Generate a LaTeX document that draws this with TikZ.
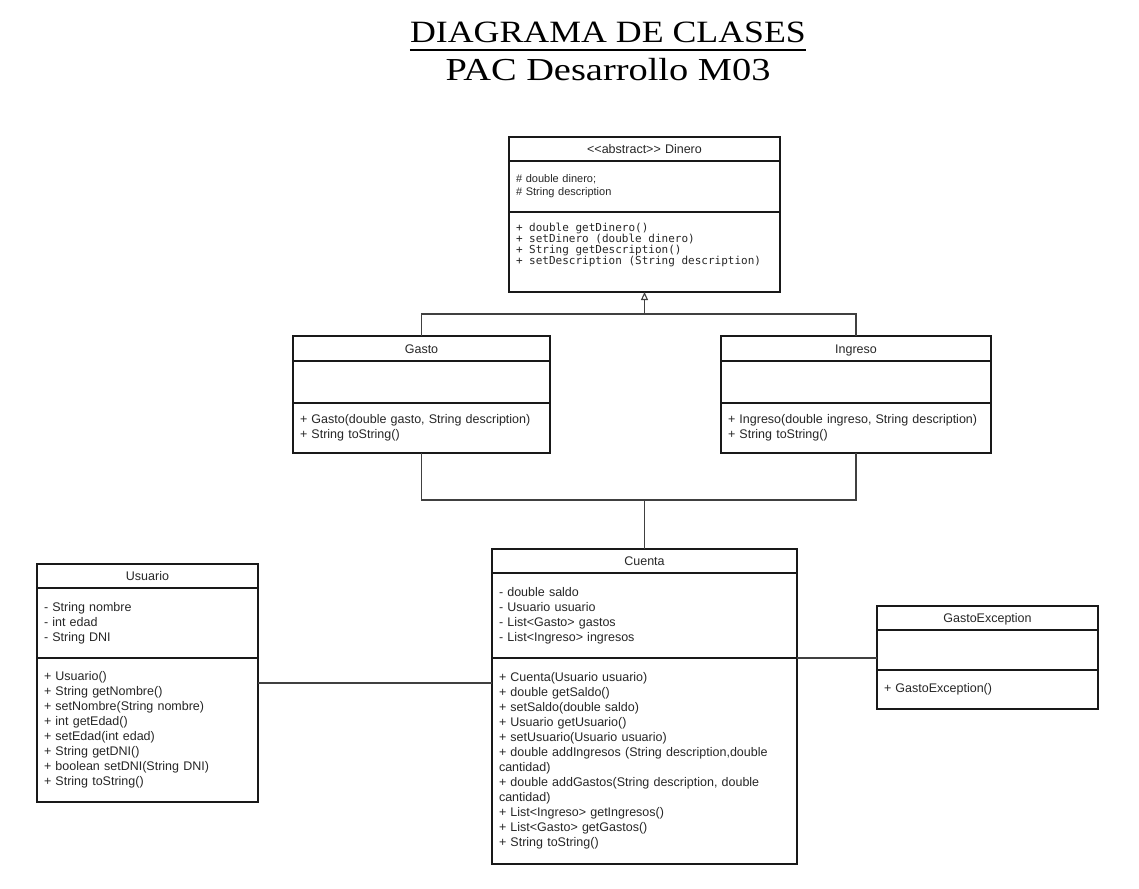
\documentclass[tikz,border=0pt]{standalone}
\usepackage{fontspec}
\setmainfont{Liberation Sans}
\setmonofont{DejaVu Sans Mono}
\newfontfamily\titlefont{Liberation Serif}
\usetikzlibrary{positioning,calc,arrows.meta}
\colorlet{ClassBorder}{black!90}
\colorlet{LinkColor}{black!75}
\newcommand{\classfont}{\fontsize{12.5}{15}\selectfont}
\newcommand{\codefont}{\ttfamily\fontsize{11}{11}\selectfont}
\newcommand{\codesp}{\hspace*{6.62pt}}

\tikzset{
  classbox/.style={draw=ClassBorder, line width=1.5pt, outer sep=0pt,
    inner xsep=7pt, inner ysep=2pt, text=black!85, font=\classfont},
  classhead/.style={classbox, align=center, anchor=north west, text height=12pt, text depth=3pt},
  link/.style={draw=LinkColor, line width=1.1pt},
}

\begin{document}
\begin{tikzpicture}[x=1pt, y=-1pt]
    \useasboundingbox (0,0) rectangle (1139,888);

    % ---------- Title
    \node[anchor=base, inner sep=0pt, font=\titlefont\fontsize{31}{36}\selectfont] (title) at (608,43)
      {\scalebox{1.155}[1]{DIAGRAMA DE CLASES}};
    \draw[line width=2.6pt] ($(title.base west)+(0,7)$) -- ($(title.base east)+(0,7)$);
    \node[anchor=base, inner sep=0pt, font=\titlefont\fontsize{32}{36}\selectfont] (subtitle) at (608,81)
      {\scalebox{1.2}[1]{PAC Desarrollo M03}};

    % ---------- Dinero
    \node[classhead, text width=257pt, minimum height=24pt] (dineroHead) at (509,137) {{<}{<}abstract{>}{>} Dinero};
    \node[classbox, text width=257pt, minimum height=51pt, align=left, below=0pt of dineroHead,
      font=\fontsize{11}{13}\selectfont] (dineroAttrs) {\# double dinero;\\\# String description};
    \node[classbox, text width=257pt, minimum height=80pt, align=left, below=0pt of dineroAttrs,
      font=\codefont] (dineroMethods)
      {+\codesp double\codesp getDinero()\\
       +\codesp setDinero\codesp(double\codesp dinero)\\
       +\codesp String\codesp getDescription()\\
       +\codesp setDescription\codesp(String\codesp description)\par\vspace{14pt}};

    % ---------- Gasto
    \node[classhead, text width=243pt, minimum height=25pt] (gastoHead) at (293,336) {Gasto};
    \node[classbox, text width=243pt, minimum height=42pt, below=0pt of gastoHead] (gastoAttrs) {};
    \node[classbox, text width=243pt, minimum height=50pt, align=left, below=0pt of gastoAttrs] (gastoMethods)
      {+ Gasto(double gasto, String description)\\+ String toString()};

    % ---------- Ingreso
    \node[classhead, text width=256pt, minimum height=25pt] (ingresoHead) at (721,336) {Ingreso};
    \node[classbox, text width=256pt, minimum height=42pt, below=0pt of ingresoHead] (ingresoAttrs) {};
    \node[classbox, text width=256pt, minimum height=50pt, align=left, below=0pt of ingresoAttrs] (ingresoMethods)
      {+ Ingreso(double ingreso, String description)\\+ String toString()};

    % ---------- Cuenta
    \node[classhead, text width=291pt, minimum height=24pt] (cuentaHead) at (492,549) {Cuenta};
    \node[classbox, text width=291pt, minimum height=85pt, align=left, below=0pt of cuentaHead] (cuentaAttrs)
      {- double saldo\\- Usuario usuario\\- List<Gasto> gastos\\- List<Ingreso> ingresos};
    \node[classbox, text width=291pt, minimum height=206pt, align=left, below=0pt of cuentaAttrs] (cuentaMethods)
      {+ Cuenta(Usuario usuario)\\+ double getSaldo()\\+ setSaldo(double saldo)\\+ Usuario getUsuario()\\
       + setUsuario(Usuario usuario)\\+ double addIngresos (String description,double\\cantidad)\\
       + double addGastos(String description, double\\cantidad)\\+ List<Ingreso> getIngresos()\\
       + List<Gasto> getGastos()\\+ String toString()};

    % ---------- Usuario
    \node[classhead, text width=207pt, minimum height=24pt] (usuarioHead) at (37,564) {Usuario};
    \node[classbox, text width=207pt, minimum height=70pt, align=left, below=0pt of usuarioHead] (usuarioAttrs)
      {- String nombre\\- int edad\\- String DNI};
    \node[classbox, text width=207pt, minimum height=144pt, align=left, below=0pt of usuarioAttrs] (usuarioMethods)
      {+ Usuario()\\+ String getNombre()\\+ setNombre(String nombre)\\+ int getEdad()\\+ setEdad(int edad)\\
       + String getDNI()\\+ boolean setDNI(String DNI)\\+ String toString()};

    % ---------- GastoException
    \node[classhead, text width=207pt, minimum height=24pt] (gastoExHead) at (877,606) {GastoException};
    \node[classbox, text width=207pt, minimum height=40pt, below=0pt of gastoExHead] (gastoExAttrs) {};
    \node[classbox, text width=207pt, minimum height=39pt, align=left, below=0pt of gastoExAttrs] (gastoExMethods)
      {+ GastoException()};

    % Inheritance
    \coordinate (inheritJoin) at ($(dineroMethods.south)+(0,22)$);
    \draw[link] (gastoHead.north) |- (inheritJoin) -| (ingresoHead.north);
    \draw[link, -{Triangle[open, length=8pt, width=7pt]}] (inheritJoin) -- (dineroMethods.south);

    % Cuenta links
    \coordinate (accountJoin) at ($(cuentaHead.north)+(0,-49)$);
    \draw[link] (gastoMethods.south) |- (accountJoin) -| (ingresoMethods.south);
    \draw[link] (accountJoin) -- (cuentaHead.north);
    \draw[link] ($(usuarioMethods.north east)+(0,25)$) coordinate (usuarioLink) -- (usuarioLink -| cuentaMethods.west);
    \draw[link] (cuentaMethods.north east) -- (cuentaMethods.north east -| gastoExAttrs.west);

\end{tikzpicture}
\end{document}
